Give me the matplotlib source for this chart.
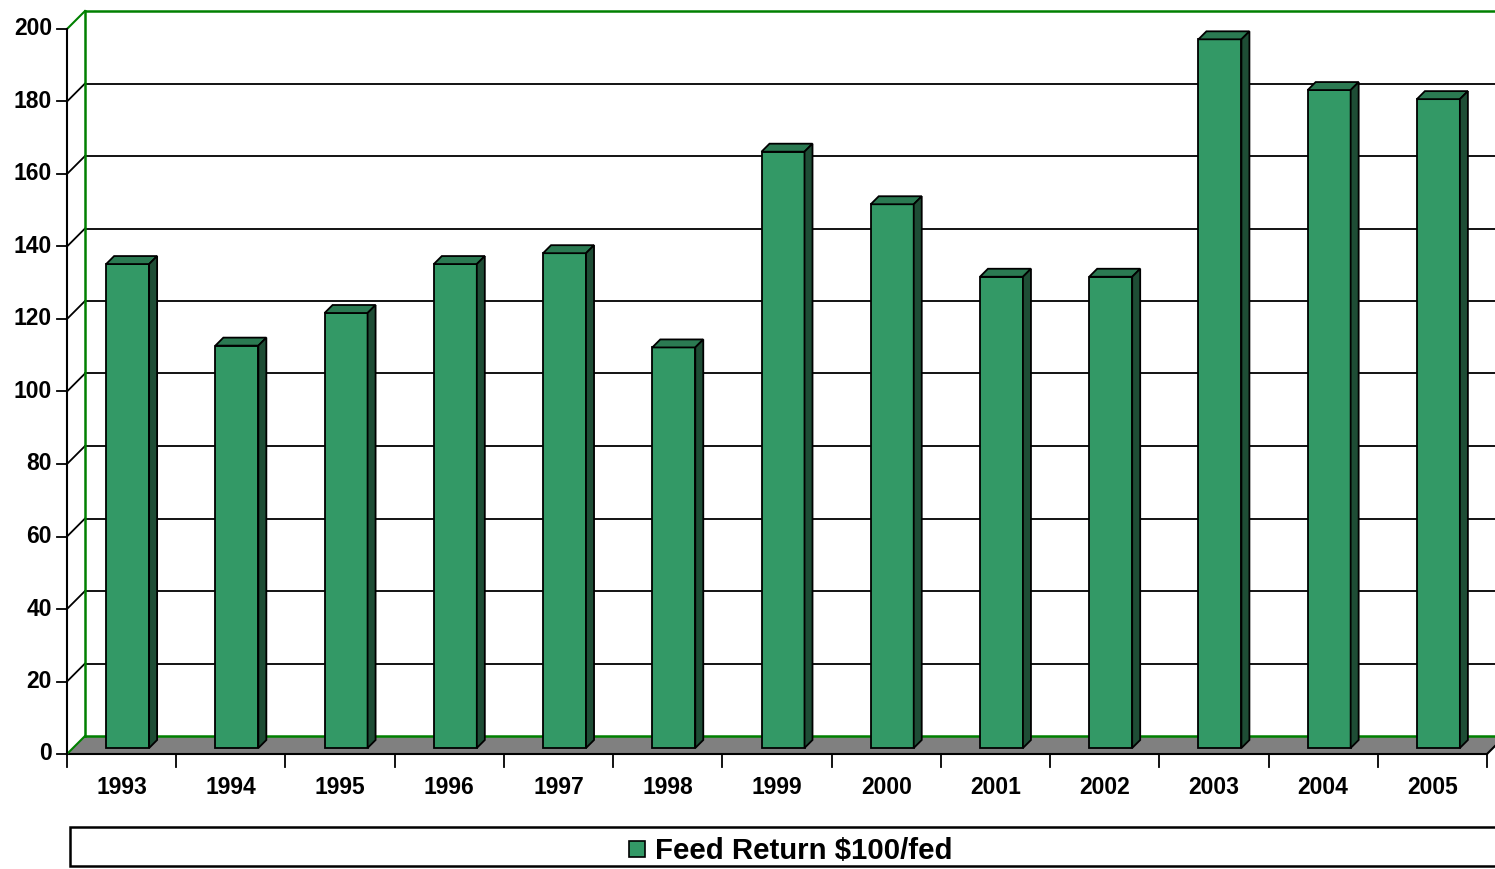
import matplotlib.pyplot as plt
from matplotlib.patches import Polygon, Rectangle

years = ['1993', '1994', '1995', '1996', '1997', '1998', '1999',
         '2000', '2001', '2002', '2003', '2004', '2005']
feed_return = [133.5, 111, 120, 133.5, 136.5, 110.5, 164.5,
               150, 130, 130, 195.5, 181.5, 179]
y_ticks = [0, 20, 40, 60, 80, 100, 120, 140, 160, 180, 200]

W, H = 1495, 869
fig = plt.figure(figsize=(W / 100, H / 100), dpi=100)
ax = fig.add_axes([0, 0, 1, 1])

# pixel scale of the front plane: 0 at x=67, 13 at x=1487; 0 at y=754, 200 at y=29
px_x = (1487 - 67) / 13.0
px_y = (754 - 29) / 200.0
ax.set_xlim(-67 / px_x, (W - 67) / px_x)
ax.set_ylim(-(H - 754) / px_y, 754 / px_y)
ax.axis('off')

# depth offsets (18 px back wall, bars 6..14 px deep)
dx = 18 / px_x
dy = 18 / px_y
n = len(years)
right = n + 0.5

# floor
ax.add_patch(Polygon([(0, 0), (n, 0), (n + dx, dy), (right, dy), (dx, dy)],
                     closed=True, facecolor='#808080', edgecolor='none', zorder=1))
ax.plot([0, n], [0, 0], color='black', lw=1.5, zorder=2)
ax.plot([n, n + 8 / px_x], [0, 8 / px_y], color='black', lw=1.5, zorder=2)

# back wall gridlines and side-wall connectors
for t in y_ticks[1:-1]:
    ax.plot([dx, right], [t + dy, t + dy], color='black', lw=1.3, zorder=1)
    ax.plot([0, dx], [t, t + dy], color='black', lw=1.3, zorder=1)

# wall borders (green)
green = '#008000'
ax.plot([dx, dx], [dy, 200 + dy], color=green, lw=1.8, zorder=2)
ax.plot([dx, right], [200 + dy, 200 + dy], color=green, lw=1.8, zorder=2)
ax.plot([dx, right], [dy, dy], color=green, lw=1.8, zorder=1.5)
ax.plot([0, dx], [200, 200 + dy], color=green, lw=1.5, zorder=2)
ax.plot([0, dx], [0, dy], color=green, lw=1.5, zorder=2)

# front value axis
ax.plot([0, 0], [0, 200], color='black', lw=1.5, zorder=3)
for t in y_ticks:
    ax.plot([-10 / px_x, 0], [t, t], color='black', lw=1.3, zorder=3)
    ax.text(-15 / px_x, t, str(t), ha='right', va='center',
            fontsize=16.5, fontweight='bold', family='Liberation Sans')

# category axis ticks and labels
for i in range(n + 1):
    ax.plot([i, i], [0, -13 / px_y], color='black', lw=1.3, zorder=3)
for i, yr in enumerate(years):
    ax.text(i + 0.5, -33 / px_y, yr, ha='center', va='center',
            fontsize=16.5, fontweight='bold', family='Liberation Sans')

# 3D bars
front_c, top_c, side_c = '#339966', '#2b7a52', '#1e4d35'
bw = 43 / px_x
ox, oy = 6 / px_x, 6 / px_y
ddx, ddy = 8 / px_x, 8 / px_y
xs = [i + 0.5 - bw / 2 + ox for i in range(n)]
ax.bar(xs, feed_return, width=bw, bottom=oy, align='edge', color=front_c,
       edgecolor='black', linewidth=1.3, zorder=4)
for x0, v in zip(xs, feed_return):
    top = v + oy
    ax.add_patch(Polygon([(x0, top), (x0 + bw, top), (x0 + bw + ddx, top + ddy),
                          (x0 + ddx, top + ddy)], closed=True, facecolor=top_c,
                         edgecolor='black', lw=1.3, zorder=4))
    ax.add_patch(Polygon([(x0 + bw, oy), (x0 + bw + ddx, oy + ddy),
                          (x0 + bw + ddx, top + ddy), (x0 + bw, top)], closed=True,
                         facecolor=side_c, edgecolor='black', lw=1.3, zorder=4))

# legend box
lx0 = (70 - 67) / px_x
ly0 = -(866 - 754) / px_y
ly1 = -(827 - 754) / px_y
ax.add_patch(Rectangle((lx0, ly0), right - lx0, ly1 - ly0, facecolor='white',
                       edgecolor='black', lw=1.8, zorder=2))
ax.add_patch(Rectangle(((629 - 67) / px_x, -(857 - 754) / px_y), 16 / px_x, 16 / px_y,
                       facecolor=front_c, edgecolor='black', lw=1.2, zorder=3))
ax.text((655 - 67) / px_x, -(851 - 754) / px_y, 'Feed Return $100/fed', ha='left',
        va='center', fontsize=21.2, fontweight='bold', family='Liberation Sans', zorder=3)

fig.savefig('out.png', dpi=100)
